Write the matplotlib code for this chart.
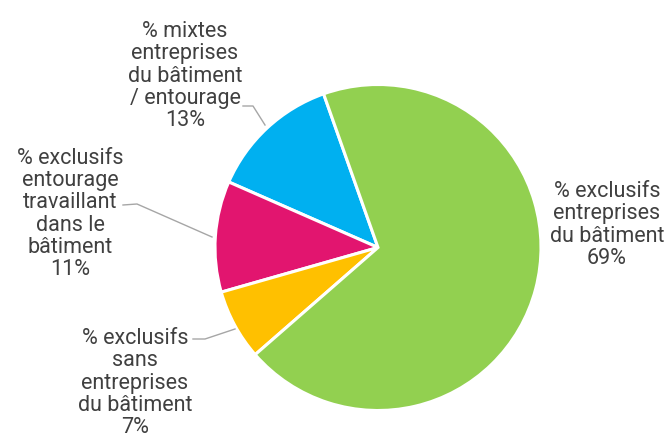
import matplotlib.pyplot as plt

# slices, counter-clockwise from the top-left edge of the blue slice
labels = ['% mixtes\nentreprises\ndu bâtiment\n/ entourage',
          '% exclusifs\nentourage\ntravaillant\ndans le\nbâtiment',
          '% exclusifs\nsans\nentreprises\ndu bâtiment',
          '% exclusifs\nentreprises\ndu bâtiment']
values = [13, 11, 7, 69]
colors = ['#00b0f0', '#e2156f', '#ffc000', '#92d050']

plt.rcParams['font.family'] = ['Roboto', 'DejaVu Sans']

fig = plt.figure(figsize=(6.66, 4.45), dpi=100)
ax = fig.add_axes([0, 0, 1, 1])

H = 445
ax.pie(values, colors=colors, startangle=109.5, counterclock=True,
       center=(378, H - 247.5), radius=163,
       wedgeprops=dict(edgecolor='white', linewidth=2.2))

# label placement (pixel coords of text centre) and leader lines
text_pos = [(185, 76), (70, 214), (135, 383), (607, 225)]
leaders = [[(243, 106), (253, 106), (265, 125)],
           [(123, 205), (137, 204), (212, 237)],
           [(193, 339), (205, 339), (235, 329)],
           None]

for lab, v, (tx, ty), ld in zip(labels, values, text_pos, leaders):
    ax.text(tx, H - ty, '{}\n{}%'.format(lab, v), ha='center', va='center',
            fontsize=15.5, color='#404040', linespacing=1.07)
    if ld:
        ax.plot([p[0] for p in ld], [H - p[1] for p in ld],
                color='#a6a6a6', linewidth=1)

ax.set_xlim(0, 666)
ax.set_ylim(0, 445)
ax.set_aspect('equal')
ax.axis('off')

fig.savefig('out.png', dpi=100, facecolor='white')
